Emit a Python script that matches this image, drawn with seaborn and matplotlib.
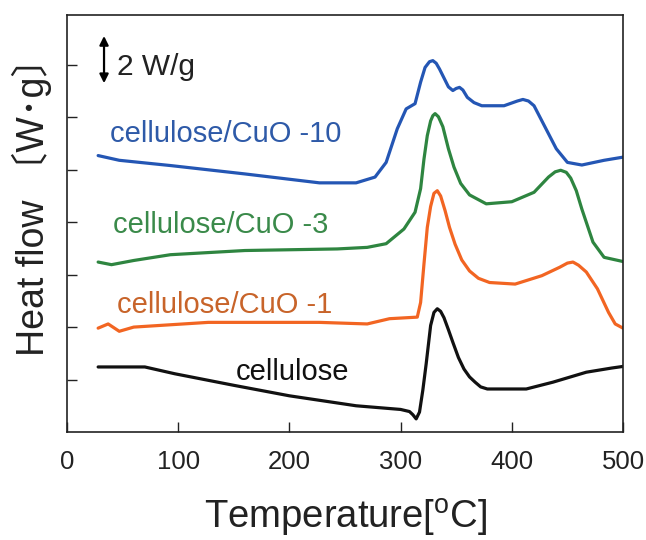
import numpy as np
import pandas as pd
import matplotlib
matplotlib.use("Agg")
import matplotlib.pyplot as plt
import seaborn as sns

# ---- data (y in arbitrary offset units, 1 tick = 1) ----
t_cell = [28, 70, 97, 150, 200, 260, 300, 308, 311, 314, 317, 320, 323, 327, 330, 333, 336, 339, 343, 347, 352, 357, 362, 367, 372, 378, 413, 437, 467, 490, 500]
y_cell = [1.24, 1.24, 1.11, 0.89, 0.69, 0.50, 0.43, 0.39, 0.33, 0.25, 0.38, 0.80, 1.30, 2.03, 2.28, 2.35, 2.30, 2.18, 1.95, 1.71, 1.42, 1.20, 1.05, 0.95, 0.86, 0.82, 0.82, 0.95, 1.14, 1.22, 1.25]

t_cuo1 = [28, 37, 47, 60, 127, 227, 270, 290, 315, 318, 321, 324, 327, 330, 333, 336, 340, 344, 349, 355, 362, 370, 380, 403, 427, 443, 450, 455, 460, 467, 477, 487, 493, 500]
y_cuo1 = [1.98, 2.06, 1.92, 2.00, 2.09, 2.09, 2.06, 2.16, 2.19, 2.47, 3.20, 3.90, 4.30, 4.55, 4.60, 4.50, 4.22, 3.90, 3.58, 3.28, 3.07, 2.93, 2.85, 2.82, 2.98, 3.14, 3.22, 3.24, 3.18, 3.05, 2.73, 2.28, 2.06, 1.98]

t_cuo3 = [28, 40, 60, 93, 160, 243, 270, 287, 303, 313, 318, 321, 324, 327, 329, 331, 334, 338, 343, 348, 354, 362, 377, 400, 420, 433, 439, 444, 449, 453, 458, 463, 473, 483, 500]
y_cuo3 = [3.24, 3.19, 3.27, 3.38, 3.46, 3.49, 3.52, 3.59, 3.87, 4.19, 4.64, 5.20, 5.65, 5.93, 6.03, 6.07, 6.01, 5.82, 5.40, 5.05, 4.74, 4.52, 4.35, 4.39, 4.57, 4.86, 4.96, 4.99, 4.95, 4.84, 4.60, 4.25, 3.62, 3.33, 3.25]

t_cuo10 = [28, 47, 93, 160, 227, 260, 277, 287, 297, 305, 313, 318, 322, 326, 329, 332, 335, 339, 343, 347, 350, 353, 356, 360, 366, 373, 393, 405, 410, 415, 420, 430, 440, 450, 463, 483, 500]
y_cuo10 = [5.27, 5.18, 5.08, 4.92, 4.75, 4.75, 4.86, 5.14, 5.78, 6.16, 6.26, 6.67, 6.95, 7.06, 7.08, 7.03, 6.92, 6.75, 6.58, 6.51, 6.55, 6.57, 6.52, 6.38, 6.28, 6.22, 6.22, 6.31, 6.34, 6.31, 6.22, 5.81, 5.40, 5.14, 5.09, 5.18, 5.24]

series_names = ["cellulose", "cellulose/CuO -1", "cellulose/CuO -3", "cellulose/CuO -10"]
line_colors = ["#111111", "#f26522", "#2e8540", "#2456b4"]
text_colors = ["#111111", "#c8642a", "#3a8a4a", "#2e5aa8"]
x_ticks = [0, 100, 200, 300, 400, 500]
y_ticks = [1, 2, 3, 4, 5, 6, 7]

frames = []
for name, t, y in zip(series_names,
                      [t_cell, t_cuo1, t_cuo3, t_cuo10],
                      [y_cell, y_cuo1, y_cuo3, y_cuo10]):
    frames.append(pd.DataFrame({"T": t, "y": y, "sample": name}))
df = pd.concat(frames, ignore_index=True)

sns.set_theme(style="ticks")
plt.rcParams["font.family"] = ["Liberation Sans", "Noto Sans CJK JP", "DejaVu Sans"]
plt.rcParams["mathtext.fontset"] = "custom"
plt.rcParams["mathtext.rm"] = "Liberation Sans"

fig = plt.figure(figsize=(6.46, 5.4), dpi=100)
ax = fig.add_axes([67 / 646, 1 - 432 / 540, (623 - 67) / 646, (432 - 15) / 540])

sns.lineplot(data=df, x="T", y="y", hue="sample", hue_order=series_names,
             palette=dict(zip(series_names, line_colors)), sort=False,
             estimator=None, linewidth=2.3, legend=False, ax=ax)

ax.set_xlim(0, 500)
ax.set_ylim(0, 7.95)
ax.set_xticks(x_ticks)
ax.set_xticklabels([str(v) for v in x_ticks])
ax.set_yticks(y_ticks)
ax.set_yticklabels([])
ax.tick_params(axis="both", direction="in", length=7, width=1.0, color="#222222")
ax.tick_params(axis="x", labelsize=18.5, pad=13, labelcolor="#222222")
for s in ax.spines.values():
    s.set_visible(True)
    s.set_linewidth(1.2)
    s.set_color("#222222")
ax.set_xlabel("")
ax.set_ylabel("")

# series labels
label_pos = {"cellulose": (152, 0.99), "cellulose/CuO -1": (45, 2.27),
             "cellulose/CuO -3": (41, 3.79), "cellulose/CuO -10": (38.5, 5.52)}
for name, c in zip(series_names, text_colors):
    x, y = label_pos[name]
    ax.text(x, y, name, color=c, fontsize=21, ha="left", va="baseline")

# scale bar
ax.annotate("", xy=(33.3, 7.55), xytext=(33.3, 6.65),
            arrowprops=dict(arrowstyle="<|-|>", color="black", lw=1.6,
                            mutation_scale=13, shrinkA=0, shrinkB=0))
ax.text(45, 6.8, "2 W/g", fontsize=21.5, color="#222222", ha="left", va="baseline")

# axis titles
fig.text(346 / 646, 1 - 529 / 540, "Temperature[$^{\\mathrm{o}}$C]", fontsize=27.5,
         ha="center", va="baseline", color="#222222")
fig.text(32 / 646, 1 - 198 / 540, "Heat flow \u3014W\uff65g\u3015", fontsize=27,
         rotation=90, ha="center", va="center", color="#222222")

fig.savefig("out.png", dpi=100)
